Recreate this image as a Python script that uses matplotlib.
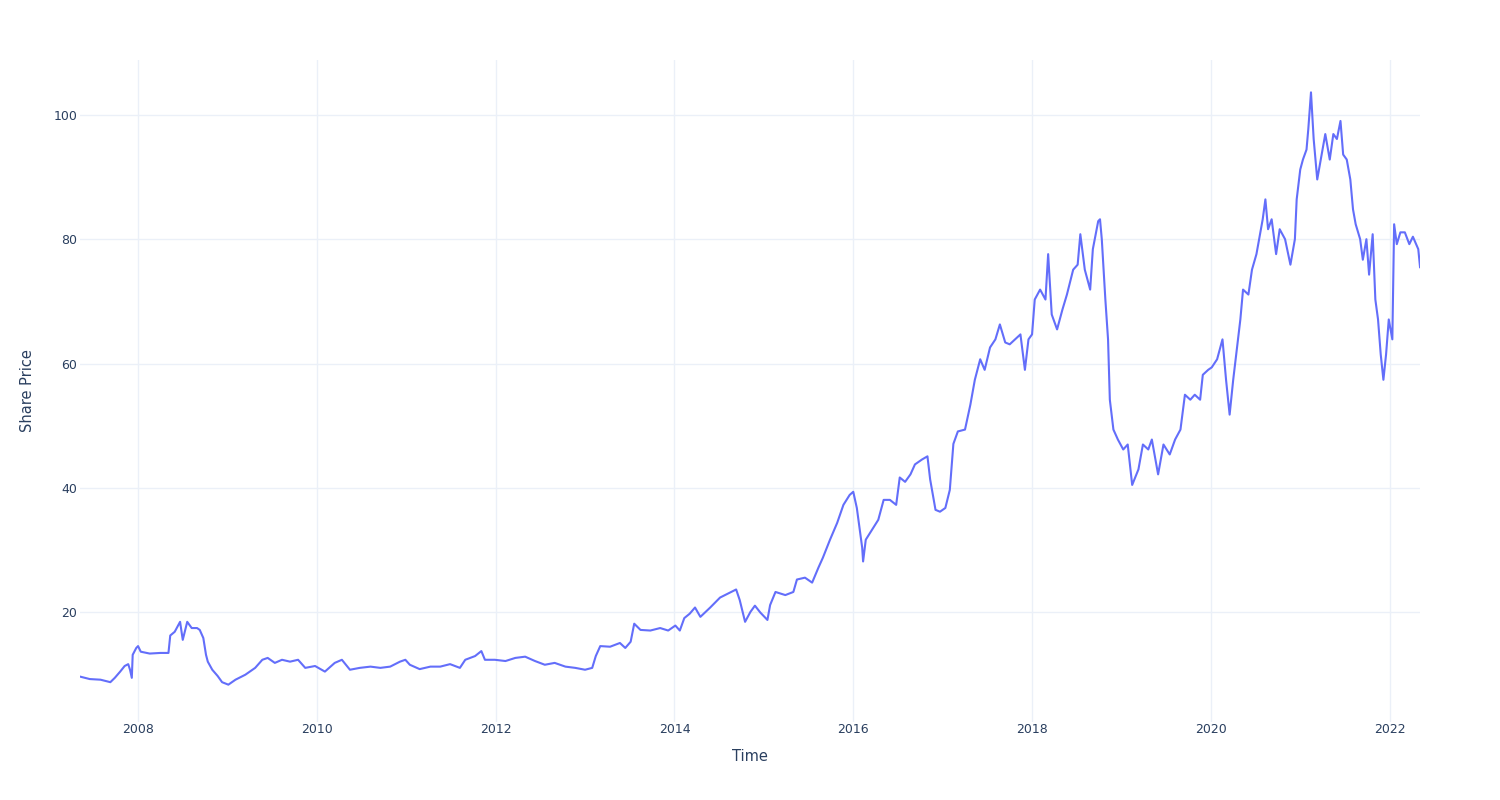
import matplotlib
matplotlib.use('Agg')
import matplotlib.pyplot as plt

# share price, time as decimal year
years = [
    2007.35, 2007.46, 2007.58, 2007.69, 2007.74, 2007.80, 2007.85, 2007.89, 2007.91, 2007.93,
    2007.94, 2007.98, 2008.00, 2008.03, 2008.13, 2008.25, 2008.34, 2008.36, 2008.41, 2008.47,
    2008.50, 2008.55, 2008.60, 2008.66, 2008.69, 2008.73, 2008.76, 2008.78, 2008.83, 2008.89,
    2008.94, 2009.01, 2009.09, 2009.20, 2009.31, 2009.39, 2009.45, 2009.53, 2009.61, 2009.70,
    2009.79, 2009.87, 2009.98, 2010.09, 2010.20, 2010.28, 2010.37, 2010.48, 2010.60, 2010.71,
    2010.82, 2010.93, 2010.99, 2011.04, 2011.15, 2011.27, 2011.38, 2011.49, 2011.60, 2011.66,
    2011.77, 2011.84, 2011.88, 2011.99, 2012.11, 2012.22, 2012.33, 2012.44, 2012.55, 2012.66,
    2012.78, 2012.89, 2013.00, 2013.08, 2013.12, 2013.17, 2013.28, 2013.39, 2013.45, 2013.51,
    2013.55, 2013.62, 2013.73, 2013.84, 2013.93, 2014.01, 2014.06, 2014.11, 2014.17, 2014.23,
    2014.29, 2014.40, 2014.51, 2014.62, 2014.69, 2014.73, 2014.79, 2014.85, 2014.90, 2014.96,
    2015.04, 2015.07, 2015.13, 2015.24, 2015.33, 2015.37, 2015.46, 2015.54, 2015.61, 2015.66,
    2015.74, 2015.82, 2015.89, 2015.96, 2016.00, 2016.04, 2016.10, 2016.11, 2016.14, 2016.21,
    2016.28, 2016.34, 2016.41, 2016.48, 2016.52, 2016.58, 2016.64, 2016.69, 2016.77, 2016.83,
    2016.86, 2016.92, 2016.97, 2017.03, 2017.08, 2017.12, 2017.17, 2017.25, 2017.31, 2017.36,
    2017.42, 2017.47, 2017.53, 2017.59, 2017.64, 2017.70, 2017.75, 2017.81, 2017.87, 2017.92,
    2017.96, 2018.00, 2018.03, 2018.09, 2018.15, 2018.18, 2018.22, 2018.28, 2018.34, 2018.39,
    2018.46, 2018.51, 2018.54, 2018.59, 2018.65, 2018.68, 2018.74, 2018.76, 2018.78, 2018.82,
    2018.85, 2018.87, 2018.91, 2018.96, 2019.02, 2019.07, 2019.12, 2019.19, 2019.24, 2019.30,
    2019.34, 2019.41, 2019.47, 2019.54, 2019.60, 2019.66, 2019.71, 2019.77, 2019.82, 2019.88,
    2019.91, 2019.97, 2020.01, 2020.07, 2020.13, 2020.17, 2020.21, 2020.25, 2020.29, 2020.33,
    2020.36, 2020.42, 2020.46, 2020.51, 2020.55, 2020.58, 2020.61, 2020.64, 2020.68, 2020.73,
    2020.77, 2020.83, 2020.89, 2020.94, 2020.96, 2021.00, 2021.03, 2021.07, 2021.09, 2021.12,
    2021.15, 2021.19, 2021.23, 2021.28, 2021.33, 2021.37, 2021.41, 2021.45, 2021.48, 2021.52,
    2021.56, 2021.59, 2021.62, 2021.67, 2021.70, 2021.74, 2021.77, 2021.81, 2021.84, 2021.87,
    2021.90, 2021.93, 2021.96, 2021.99, 2022.03, 2022.05, 2022.08, 2022.12, 2022.17, 2022.22,
    2022.26, 2022.32, 2022.34,
]
price = [
    9.7, 9.3, 9.2, 8.8, 9.5, 10.5, 11.4, 11.7, 10.8, 9.5,
    13.2, 14.3, 14.6, 13.7, 13.4, 13.5, 13.5, 16.3, 16.9, 18.5,
    15.6, 18.5, 17.5, 17.5, 17.2, 15.9, 13.2, 12.1, 10.8, 9.8,
    8.8, 8.4, 9.2, 10.0, 11.1, 12.4, 12.7, 11.9, 12.4, 12.1,
    12.4, 11.1, 11.4, 10.5, 11.9, 12.4, 10.8, 11.1, 11.3, 11.1,
    11.3, 12.1, 12.4, 11.6, 10.9, 11.3, 11.3, 11.7, 11.1, 12.4,
    13.0, 13.8, 12.4, 12.4, 12.2, 12.7, 12.9, 12.2, 11.6, 11.9,
    11.3, 11.1, 10.8, 11.1, 13.0, 14.6, 14.5, 15.1, 14.3, 15.3,
    18.2, 17.2, 17.1, 17.5, 17.1, 17.9, 17.1, 19.1, 19.8, 20.8,
    19.3, 20.8, 22.4, 23.2, 23.7, 22.0, 18.5, 20.1, 21.1, 20.0,
    18.8, 21.2, 23.3, 22.8, 23.3, 25.3, 25.6, 24.8, 27.2, 28.8,
    31.7, 34.4, 37.3, 38.9, 39.4, 36.8, 30.4, 28.2, 31.7, 33.3,
    34.9, 38.1, 38.1, 37.3, 41.7, 41.0, 42.2, 43.8, 44.6, 45.1,
    41.4, 36.5, 36.2, 36.8, 39.7, 47.1, 49.1, 49.4, 53.4, 57.4,
    60.7, 59.0, 62.6, 63.9, 66.3, 63.4, 63.1, 63.9, 64.7, 59.0,
    63.9, 64.7, 70.3, 71.9, 70.3, 77.6, 67.9, 65.5, 68.7, 71.1,
    75.1, 75.9, 80.8, 75.1, 71.9, 78.4, 82.9, 83.2, 80.0, 70.3,
    63.9, 54.2, 49.4, 47.8, 46.2, 47.0, 40.5, 43.0, 47.0, 46.2,
    47.8, 42.2, 47.0, 45.4, 47.8, 49.4, 55.0, 54.2, 55.0, 54.2,
    58.2, 59.0, 59.4, 60.7, 63.9, 57.4, 51.8, 57.4, 62.3, 67.1,
    71.9, 71.1, 75.1, 77.6, 80.8, 83.2, 86.4, 81.6, 83.2, 77.6,
    81.6, 80.0, 75.9, 80.0, 86.4, 91.2, 92.8, 94.4, 97.7, 103.6,
    96.1, 89.6, 92.8, 96.9, 92.8, 96.9, 96.1, 99.0, 93.6, 92.8,
    89.6, 84.8, 82.4, 80.0, 76.7, 80.0, 74.3, 80.8, 70.3, 67.1,
    61.5, 57.4, 61.5, 67.1, 63.9, 82.4, 79.2, 81.1, 81.1, 79.2,
    80.4, 78.4, 75.5,
]

year_ticks = [2008, 2010, 2012, 2014, 2016, 2018, 2020, 2022]
price_ticks = [20, 40, 60, 80, 100]

text_color = '#2a3f5f'
grid_color = '#ebf0f8'

fig = plt.figure(figsize=(15, 8), dpi=100)
ax = fig.add_axes([0.0533, 0.0975, 0.8934, 0.8275])

ax.plot(years, price, color='#636efa', linewidth=1.5)

ax.set_xlim(2007.35, 2022.34)
ax.set_ylim(2.4, 108.8)
ax.set_xticks(year_ticks)
ax.set_xticklabels([str(y) for y in year_ticks])
ax.set_yticks(price_ticks)

ax.grid(True, color=grid_color, linewidth=1)
ax.set_axisbelow(True)
for side in ax.spines.values():
    side.set_visible(False)
ax.tick_params(axis='both', length=0, labelsize=9, labelcolor=text_color)
ax.tick_params(axis='x', pad=1)
ax.tick_params(axis='y', pad=2)

ax.set_xlabel('Time', fontsize=10.5, color=text_color, labelpad=9)
ax.set_ylabel('Share Price', fontsize=10.5, color=text_color, labelpad=13)

plt.savefig('out.png', dpi=100)
